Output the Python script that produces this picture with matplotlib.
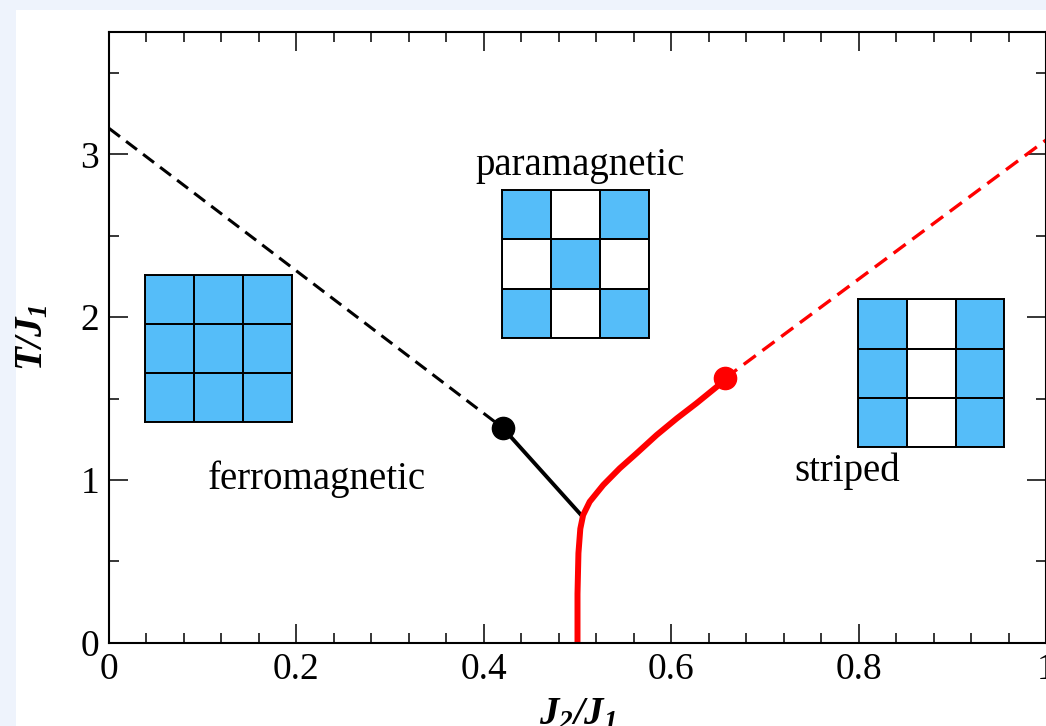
import matplotlib as mpl
mpl.use("Agg")
import matplotlib.pyplot as plt
from matplotlib.colors import ListedColormap
from matplotlib.patches import Rectangle
from matplotlib.ticker import MultipleLocator

mpl.rcParams.update({
  "font.family": "Liberation Serif",
  "mathtext.fontset": "custom",
  "mathtext.rm": "Liberation Serif:italic:bold",
  "mathtext.it": "Liberation Serif:italic:bold",
  "mathtext.bf": "Liberation Serif:italic:bold",
})

# phase boundaries (J2/J1, T/J1)
ferro_dash_x = [0.0, 0.420]
ferro_dash_y = [3.16, 1.321]
ferro_solid_x = [0.420, 0.5055]
ferro_solid_y = [1.321, 0.774]
stripe_solid_x = [0.500, 0.500, 0.501, 0.503, 0.506, 0.513, 0.5275, 0.545, 0.563,
                  0.5845, 0.606, 0.627, 0.6486, 0.6574]
stripe_solid_y = [0.0, 0.30, 0.55, 0.70, 0.784, 0.866, 0.969, 1.071, 1.163,
                  1.276, 1.378, 1.471, 1.572, 1.624]
stripe_dash_x = [0.6574, 1.0]
stripe_dash_y = [1.624, 3.088]
ferro_point = (0.420, 1.321)
stripe_point = (0.6574, 1.624)

# spin patterns, 1 = blue
ferro_pattern = [[1, 1, 1], [1, 1, 1], [1, 1, 1]]
para_pattern = [[1, 0, 1], [0, 1, 0], [1, 0, 1]]
stripe_pattern = [[1, 0, 1], [1, 0, 1], [1, 0, 1]]

labels = ["paramagnetic", "ferromagnetic", "striped"]
label_pos = [(0.503, 2.873), (0.2215, 0.944), (0.788, 0.993)]

blue = "#55bdf9"

fig = plt.figure(figsize=(10.46, 7.26), dpi=100, facecolor="#eef3fc")
fig.patches.append(Rectangle((16 / 1046, 0), 1, 1 - 10 / 726, transform=fig.transFigure,
                             facecolor="white", edgecolor="none", zorder=-10))
ax = fig.add_axes([109 / 1046, 1 - 642.7 / 726, 937 / 1046, 610.4 / 726])
ax.set_facecolor("white")

ax.plot(ferro_dash_x, ferro_dash_y, color="black", lw=2.2, dashes=(4.5, 2.5))
ax.plot(ferro_solid_x, ferro_solid_y, color="black", lw=2.8, solid_capstyle="butt")
ax.plot(stripe_dash_x, stripe_dash_y, color="red", lw=2.4, dashes=(4.5, 2.5))
ax.plot(stripe_solid_x, stripe_solid_y, color="red", lw=4.3, solid_capstyle="butt")
ax.plot(*ferro_point, "o", color="black", ms=16)
ax.plot(*stripe_point, "o", color="red", ms=16)

for txt, (x, y) in zip(labels, label_pos):
  ax.text(x, y, txt, fontsize=28, ha="center", va="baseline")

cmap = ListedColormap(["white", blue])
def add_grid(pattern, x0, x1, y0, y1):
  ins = ax.inset_axes([x0, y0, x1 - x0, y1 - y0], transform=ax.transData)
  ins.pcolormesh(pattern[::-1], cmap=cmap, vmin=0, vmax=1, edgecolors="black", linewidth=1.4)
  ins.set_xticks([])
  ins.set_yticks([])
  for s in ins.spines.values():
    s.set_linewidth(1.4)

add_grid(ferro_pattern, 0.0384, 0.1955, 1.353, 2.259)
add_grid(para_pattern, 0.419, 0.5766, 1.873, 2.781)
add_grid(stripe_pattern, 0.7997, 0.9555, 1.204, 2.109)

ax.set_xlim(0, 1.0)
ax.set_ylim(0, 3.75)
ax.xaxis.set_major_locator(MultipleLocator(0.2))
ax.xaxis.set_minor_locator(MultipleLocator(0.04))
ax.yaxis.set_major_locator(MultipleLocator(1))
ax.yaxis.set_minor_locator(MultipleLocator(0.5))
ax.set_xticks([0, 0.2, 0.4, 0.6, 0.8, 1.0])
ax.set_xticklabels(["0", "0.2", "0.4", "0.6", "0.8", "1"])
ax.tick_params(which="both", direction="in", top=True, right=True, labelsize=27, width=1.1)
ax.tick_params(which="major", length=13.5, pad=7)
ax.tick_params(which="minor", length=7)
for s in ax.spines.values():
  s.set_linewidth(1.5)

ax.set_xlabel(r"$J_2/J_1$", fontsize=28, va="top")
ax.xaxis.set_label_coords(0.5, -0.088)
ax.set_ylabel(r"$T/J_1$", fontsize=28)
ax.yaxis.set_label_coords(-0.062, 0.5)

fig.savefig("out.png", dpi=100, facecolor=fig.get_facecolor())
